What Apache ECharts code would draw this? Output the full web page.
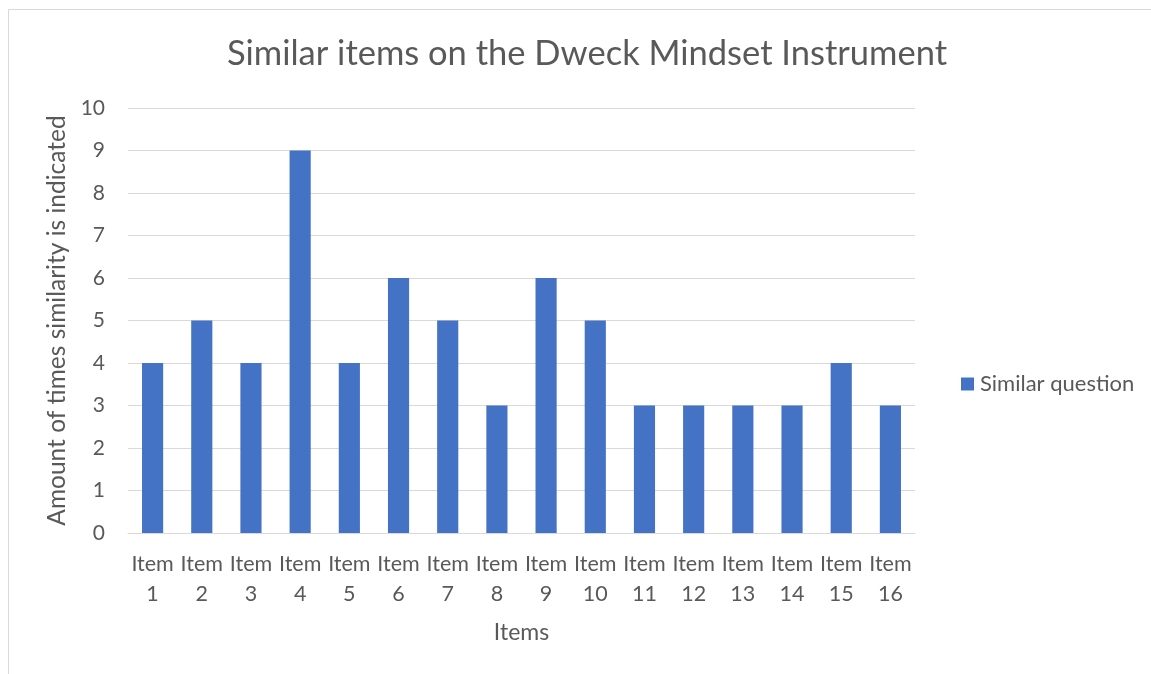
<!DOCTYPE html>
<html>
<head>
<meta charset="utf-8">
<script src="https://cdn.jsdelivr.net/npm/echarts@6/dist/echarts.min.js"></script>
<style>
  html, body { margin: 0; padding: 0; background: #fff; }
  #chart { width: 1151px; height: 674px; }
</style>
</head>
<body>
<div id="chart"></div>
<script>
// Items of the instrument and how often each was marked as similar
const categories = ['Item\n1', 'Item\n2', 'Item\n3', 'Item\n4', 'Item\n5', 'Item\n6', 'Item\n7', 'Item\n8',
  'Item\n9', 'Item\n10', 'Item\n11', 'Item\n12', 'Item\n13', 'Item\n14', 'Item\n15', 'Item\n16'];
const similarCounts = [4, 5, 4, 9, 4, 6, 5, 3, 6, 5, 3, 3, 3, 3, 4, 3];
const seriesName = 'Similar question';

const FONT = 'Lato, "Open Sans", sans-serif';
const TEXT = '#595959';

const chart = echarts.init(document.getElementById('chart'));
chart.setOption({
  animation: false,
  backgroundColor: '#ffffff',
  graphic: [{
    type: 'rect',
    shape: { x: 8.5, y: 9.5, width: 1200, height: 700 },
    style: { fill: 'none', stroke: '#d9d9d9', lineWidth: 1 },
    silent: true
  }],
  title: {
    text: 'Similar items on the Dweck Mindset Instrument',
    left: 582, top: 31, textAlign: 'center',
    textStyle: { fontFamily: FONT, fontSize: 34.5, fontWeight: 'normal', color: TEXT }
  },
  legend: {
    left: 956, top: 368,
    itemWidth: 13, itemHeight: 13, itemGap: 6,
    icon: 'rect',
    textStyle: { fontFamily: FONT, fontSize: 22, color: TEXT, padding: [0, 0, 0, 1] },
    data: [seriesName]
  },
  grid: { left: 128, right: 236, top: 108, bottom: 141, containLabel: false },
  xAxis: {
    type: 'category',
    data: categories,
    name: 'Items',
    nameLocation: 'middle',
    nameGap: 88,
    nameTextStyle: { fontFamily: FONT, fontSize: 23, color: TEXT },
    axisLine: { lineStyle: { color: '#d9d9d9', width: 1 } },
    axisTick: { show: false },
    axisLabel: { fontFamily: FONT, fontSize: 21.5, color: TEXT, lineHeight: 30, margin: 16, interval: 0 }
  },
  yAxis: {
    type: 'value',
    min: 0, max: 10, interval: 1,
    name: 'Amount of times similarity is indicated',
    nameLocation: 'middle',
    nameGap: 57,
    nameTextStyle: { fontFamily: FONT, fontSize: 24.5, color: TEXT },
    axisLine: { show: false },
    axisTick: { show: false },
    axisLabel: { fontFamily: FONT, fontSize: 21, color: TEXT, margin: 23 },
    splitLine: { lineStyle: { color: '#d9d9d9', width: 1 } }
  },
  series: [{
    name: seriesName,
    type: 'bar',
    data: similarCounts,
    barWidth: '43%',
    itemStyle: { color: '#4472C4' }
  }]
});
</script>
</body>
</html>
